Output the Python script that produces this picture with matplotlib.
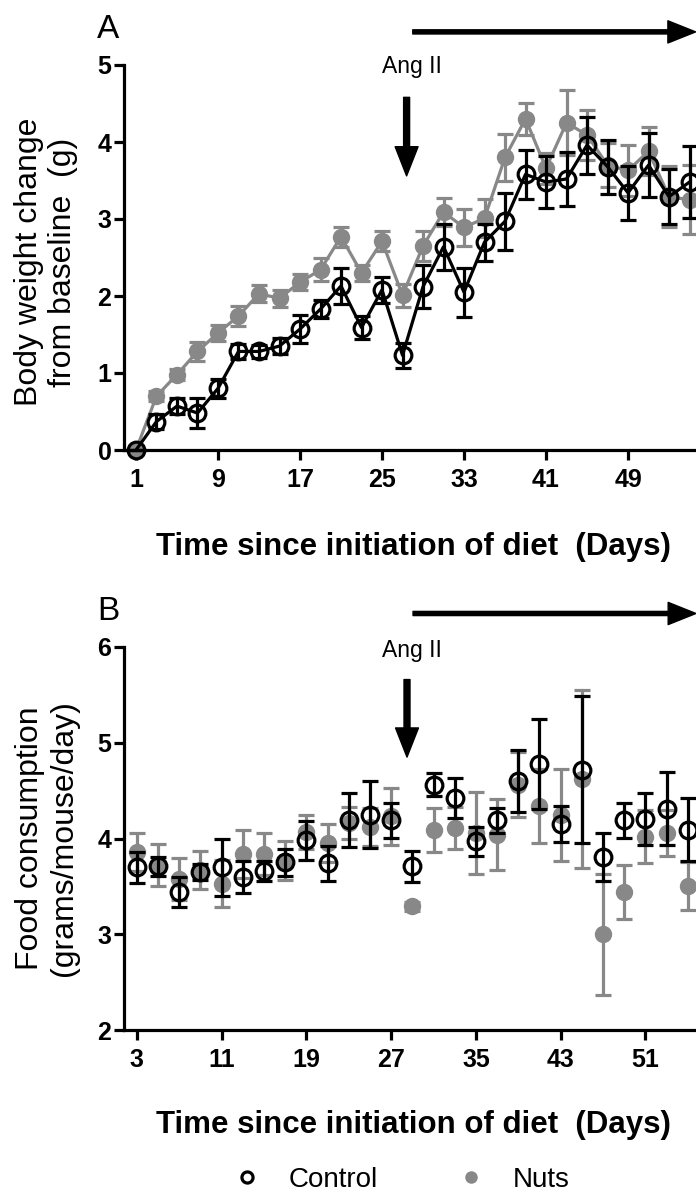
import matplotlib
matplotlib.use("Agg")
import matplotlib.pyplot as plt
from matplotlib.lines import Line2D

plt.rcParams['font.family'] = ['Liberation Sans', 'DejaVu Sans']

GRAY = "#888888"

# Panel A: body weight change (g), mean +/- SEM
days_a = list(range(1, 56, 2))
ctrl_a = [0, 0.37, 0.57, 0.48, 0.80, 1.28, 1.28, 1.35, 1.57, 1.83, 2.13, 1.59, 2.08, 1.23,
          2.12, 2.64, 2.05, 2.70, 2.97, 3.58, 3.48, 3.52, 3.96, 3.68, 3.34, 3.70, 3.29, 3.48]
ctrl_a_err = [0, 0.10, 0.10, 0.20, 0.12, 0.10, 0.08, 0.10, 0.18, 0.12, 0.24, 0.15, 0.17, 0.16,
              0.28, 0.30, 0.32, 0.24, 0.37, 0.32, 0.34, 0.35, 0.37, 0.35, 0.35, 0.42, 0.36, 0.47]
nuts_a = [0, 0.70, 0.98, 1.28, 1.52, 1.74, 2.03, 1.97, 2.18, 2.34, 2.77, 2.30, 2.71, 2.01,
          2.65, 3.09, 2.89, 3.01, 3.80, 4.30, 3.66, 4.25, 4.09, 3.70, 3.63, 3.88, 3.29, 3.25]
nuts_a_err = [0, 0.07, 0.07, 0.12, 0.10, 0.13, 0.11, 0.11, 0.10, 0.15, 0.13, 0.10, 0.13, 0.15,
              0.20, 0.18, 0.24, 0.25, 0.31, 0.21, 0.20, 0.42, 0.32, 0.29, 0.33, 0.31, 0.40, 0.45]

# Panel B: food consumption (grams/mouse/day)
days_b = list(range(3, 56, 2))
ctrl_b = [3.70, 3.71, 3.44, 3.65, 3.70, 3.60, 3.66, 3.75, 3.98, 3.74, 4.19, 4.25, 4.19, 3.71,
          4.56, 4.42, 3.97, 4.19, 4.60, 4.78, 4.15, 4.72, 3.81, 4.19, 4.20, 4.31, 4.09]
ctrl_b_err = [0.16, 0.10, 0.16, 0.08, 0.30, 0.17, 0.10, 0.14, 0.20, 0.18, 0.28, 0.35, 0.18, 0.16,
              0.12, 0.21, 0.15, 0.13, 0.32, 0.47, 0.19, 0.77, 0.25, 0.18, 0.27, 0.38, 0.33]
nuts_b = [3.86, 3.72, 3.58, 3.67, 3.53, 3.84, 3.84, 3.77, 4.07, 3.95, 4.16, 4.12, 4.23, 3.29,
          4.09, 4.11, 4.06, 4.04, 4.56, 4.34, 4.25, 4.62, 3.00, 3.44, 4.02, 4.06, 3.50]
nuts_b_err = [0.20, 0.22, 0.22, 0.20, 0.25, 0.25, 0.22, 0.20, 0.18, 0.20, 0.17, 0.20, 0.30, 0.05,
              0.23, 0.22, 0.43, 0.37, 0.34, 0.39, 0.48, 0.93, 0.63, 0.28, 0.28, 0.24, 0.25]

xticks_a = list(range(1, 50, 8))
xticks_b = list(range(3, 52, 8))

W, H = 696, 1195
fig = plt.figure(figsize=(W / 100, H / 100), dpi=100)

axA = fig.add_axes([124 / W, 1 - 450 / H, 626 / W, 385 / H])
axB = fig.add_axes([124 / W, 1 - 1030 / H, 626 / W, 383 / H])


def style(ax):
    for s in ("top", "right"):
        ax.spines[s].set_visible(False)
    for s in ("left", "bottom"):
        ax.spines[s].set_linewidth(2.3)
    ax.tick_params(width=2.3, length=7, labelsize=18)
    ax.tick_params(axis="x", pad=6)
    ax.tick_params(axis="y", pad=2)
    for lab in ax.get_xticklabels() + ax.get_yticklabels():
        lab.set_fontweight("bold")


def draw(ax, x, ctrl, ctrl_err, nuts, nuts_err, ls):
    ax.errorbar(x, nuts, yerr=nuts_err, fmt="o", ls=ls, color=GRAY, ecolor=GRAY,
                ms=11.5, mfc=GRAY, mec=GRAY, lw=2.3, elinewidth=2.3, capsize=6,
                capthick=2.3, clip_on=False, zorder=2)
    ax.errorbar(x, ctrl, yerr=ctrl_err, fmt="o", ls=ls, color="black", ecolor="black",
                ms=12, mfc="none", mec="black", mew=2.3, lw=2.3, elinewidth=2.3,
                capsize=6, capthick=2.3, clip_on=False, zorder=3)


def ang_arrows(ax, xtext, xdown, ytext, ydown0, ydown1, xh0, xh1, yh):
    ax.text(xtext, ytext, "Ang II", ha="center", va="baseline", fontsize=16.5)
    ax.annotate("", xy=(xdown, ydown1), xytext=(xdown, ydown0),
                arrowprops=dict(width=4.3, headwidth=16.5, headlength=21, shrink=0,
                                color="black"), annotation_clip=False)
    ax.annotate("", xy=(xh1, yh), xytext=(xh0, yh),
                arrowprops=dict(width=3, headwidth=16, headlength=20, shrink=0,
                                color="black"), annotation_clip=False)


# Panel A
draw(axA, days_a, ctrl_a, ctrl_a_err, nuts_a, nuts_a_err, "-")
axA.set_xlim(-0.17, 60.9)
axA.set_ylim(0, 5)
axA.set_xticks(xticks_a)
axA.set_yticks(range(0, 6))
style(axA)
ang_arrows(axA, 27.9, 27.4, 4.9, 4.58, 3.56, 28.0, 55.6, 5.43)

# Panel B
draw(axB, days_b, ctrl_b, ctrl_b_err, nuts_b, nuts_b_err, "none")
axB.set_xlim(1.8, 60.86)
axB.set_ylim(2, 6)
axB.set_xticks(xticks_b)
axB.set_yticks(range(2, 7))
style(axB)
ang_arrows(axB, 29.0, 28.5, 5.9, 5.66, 4.85, 29.07, 55.76, 6.35)

# labels
fig.text(97 / W, 1 - 38 / H, "A", fontsize=24, va="baseline", ha="left")
fig.text(97 / W, 1 - 620 / H, "B", fontsize=24, va="baseline", ha="left")
fig.text(46 / W, 1 - 262 / H, "Body weight change\nfrom baseline  (g)", rotation=90,
         ha="center", va="center", fontsize=23, linespacing=1.2)
fig.text(47 / W, 1 - 838 / H, "Food consumption\n(grams/mouse/day)", rotation=90,
         ha="center", va="center", fontsize=23, linespacing=1.2)
fig.text(413 / W, 1 - 547 / H, "Time since initiation of diet  (Days)", ha="center",
         va="center", fontsize=22.5, fontweight="bold")
fig.text(413 / W, 1 - 1125 / H, "Time since initiation of diet  (Days)", ha="center",
         va="center", fontsize=22.5, fontweight="bold")

handles = [
    Line2D([], [], ls="none", marker="o", ms=8, mfc="none", mec="black", mew=2.3),
    Line2D([], [], ls="none", marker="o", ms=9, mfc=GRAY, mew=0),
]
fig.legend(handles, ["Control", "Nuts"], ncol=2, loc="center", frameon=False,
           bbox_to_anchor=(400 / W, 1 - 1180 / H), fontsize=20, handletextpad=0.9,
           columnspacing=2.75, handlelength=1.2)

fig.savefig("out.png", dpi=100)
